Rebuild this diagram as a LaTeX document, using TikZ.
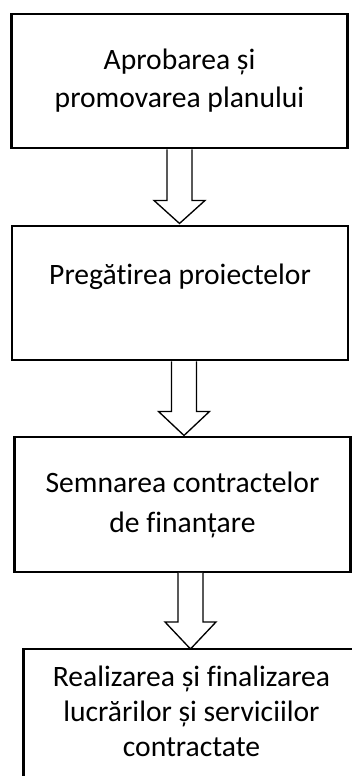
\documentclass[tikz,border=0pt]{standalone}
\usepackage{fontspec}
\setmainfont[Ligatures=NoCommon]{Carlito}
\usepackage{tikz}
\usetikzlibrary{calc,positioning}
\tikzset{
    x=0.75pt,y=-0.75pt,
    box/.style ={rectangle, draw, line width=1.7pt, fill=white, align=center,
                 minimum width=252pt, minimum height=101pt, inner sep=0pt,
                 font=\fontsize{22.2}{28.5}\selectfont},
    hollow/.style = {draw, fill=white, line width=1pt, line join=miter}
}

\begin{document}
\begin{tikzpicture}
      \clip (0,0) rectangle (352,776);
      \node[box] (plan) at (179.5,81) {Aprobarea și\\promovarea planului};
      \node[box] (proiecte) at (180,293) {Pregătirea proiectelor\\~};
      \node[box, font=\fontsize{22.2}{30}\selectfont] (contracte) at (182.5,504.5) {Semnarea contractelor\\de finanțare};
      \node[box, minimum height=119pt, font=\fontsize{22.2}{26.2}\selectfont] (lucrari) at (191.5,728.5) {Realizarea și finalizarea\\lucrărilor și serviciilor\\contractate\\~};

      % sageti intre etape
      \draw[hollow] ($(plan.south)+(-12.5,0)$) -- ++(0,51) -- ++(-13,0) -- ++(25.5,23) -- ++(25.5,-23) -- ++(-13,0) -- ++(0,-51);
      \draw[hollow] ($(proiecte.south)+(-8.5,0)$) -- ++(0,50) -- ++(-13,0) -- ++(25.5,24) -- ++(25.5,-24) -- ++(-13,0) -- ++(0,-50);
      \draw[hollow] ($(contracte.south)+(-4.5,0)$) -- ++(0,49) -- ++(-13,0) -- ++(25.5,27) -- ++(25.5,-27) -- ++(-13,0) -- ++(0,-49);
    \end{tikzpicture}
\end{document}
